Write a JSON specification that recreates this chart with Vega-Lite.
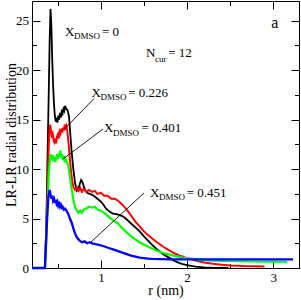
{
 "$schema": "https://vega.github.io/schema/vega-lite/v6.json",
 "width": 267, "height": 267,
 "autosize": {"type": "none"},
 "padding": {"left": 32, "top": 1, "right": 2, "bottom": 32},
 "background": "#ffffff",
 "config": {
  "view": {"stroke": "#000", "strokeWidth": 1},
  "font": "Liberation Serif",
  "axis": {"domain": false, "grid": false, "tickColor": "#000", "tickWidth": 1, "labelColor": "#000", "titleColor": "#000",
   "labelFont": "Liberation Serif", "titleFont": "Liberation Serif", "titleFontWeight": "normal",
   "labelFontSize": 13, "titleFontSize": 14, "labelFlush": false, "labelOverlap": false, "labelBound": false}
 },
 "datasets": {
  "curves": [
   {"r":0.2,"g":0,"s":"0"},{"r":0.35,"g":0,"s":"0"},{"r":0.365,"g":4,"s":"0"},{"r":0.38,"g":11,"s":"0"},{"r":0.395,"g":18,"s":"0"},{"r":0.405,"g":23,"s":"0"},{"r":0.415,"g":26.2,"s":"0"},{"r":0.425,"g":24.5,"s":"0"},{"r":0.435,"g":21,"s":"0"},{"r":0.445,"g":18.5,"s":"0"},{"r":0.455,"g":16.6,"s":"0"},{"r":0.465,"g":15.4,"s":"0"},{"r":0.475,"g":14.8,"s":"0"},{"r":0.485,"g":15.2,"s":"0"},{"r":0.495,"g":14.7,"s":"0"},{"r":0.505,"g":15.4,"s":"0"},{"r":0.515,"g":15.0,"s":"0"},{"r":0.525,"g":15.7,"s":"0"},{"r":0.535,"g":15.2,"s":"0"},{"r":0.545,"g":15.8,"s":"0"},{"r":0.555,"g":15.6,"s":"0"},{"r":0.565,"g":16.1,"s":"0"},{"r":0.575,"g":15.9,"s":"0"},{"r":0.585,"g":16.4,"s":"0"},{"r":0.595,"g":16.1,"s":"0"},{"r":0.61,"g":16.0,"s":"0"},{"r":0.62,"g":15.7,"s":"0"},{"r":0.63,"g":15.3,"s":"0"},{"r":0.645,"g":13.5,"s":"0"},{"r":0.66,"g":11.8,"s":"0"},{"r":0.68,"g":10.0,"s":"0"},{"r":0.7,"g":8.6,"s":"0"},{"r":0.72,"g":7.8,"s":"0"},{"r":0.74,"g":8.0,"s":"0"},{"r":0.755,"g":8.5,"s":"0"},{"r":0.77,"g":8.9,"s":"0"},{"r":0.785,"g":8.7,"s":"0"},{"r":0.8,"g":8.3,"s":"0"},{"r":0.82,"g":7.8,"s":"0"},{"r":0.84,"g":7.6,"s":"0"},{"r":0.87,"g":7.5,"s":"0"},{"r":0.9,"g":7.4,"s":"0"},{"r":0.93,"g":7.2,"s":"0"},{"r":0.96,"g":7.0,"s":"0"},{"r":1.0,"g":6.7,"s":"0"},{"r":1.03,"g":6.4,"s":"0"},{"r":1.06,"g":6.0,"s":"0"},{"r":1.1,"g":5.7,"s":"0"},{"r":1.14,"g":5.5,"s":"0"},{"r":1.18,"g":5.45,"s":"0"},{"r":1.22,"g":5.35,"s":"0"},{"r":1.26,"g":5.2,"s":"0"},{"r":1.3,"g":4.9,"s":"0"},{"r":1.35,"g":4.5,"s":"0"},{"r":1.4,"g":4.1,"s":"0"},{"r":1.45,"g":3.7,"s":"0"},{"r":1.5,"g":3.2,"s":"0"},{"r":1.55,"g":2.75,"s":"0"},{"r":1.6,"g":2.3,"s":"0"},{"r":1.65,"g":1.9,"s":"0"},{"r":1.7,"g":1.55,"s":"0"},{"r":1.75,"g":1.25,"s":"0"},{"r":1.8,"g":1.0,"s":"0"},{"r":1.85,"g":0.75,"s":"0"},{"r":1.9,"g":0.55,"s":"0"},{"r":1.95,"g":0.4,"s":"0"},{"r":2.0,"g":0.28,"s":"0"},{"r":2.1,"g":0.14,"s":"0"},{"r":2.2,"g":0.07,"s":"0"},{"r":2.3,"g":0.03,"s":"0"},{"r":2.48,"g":0.0,"s":"0"},

   {"r":0.2,"g":0,"s":"0.226"},{"r":0.35,"g":0,"s":"0.226"},{"r":0.365,"g":3,"s":"0.226"},{"r":0.38,"g":8,"s":"0.226"},{"r":0.395,"g":12.5,"s":"0.226"},{"r":0.41,"g":14.5,"s":"0.226"},{"r":0.42,"g":14.0,"s":"0.226"},{"r":0.43,"g":13.4,"s":"0.226"},{"r":0.44,"g":13.6,"s":"0.226"},{"r":0.45,"g":12.9,"s":"0.226"},{"r":0.46,"g":12.7,"s":"0.226"},{"r":0.47,"g":13.1,"s":"0.226"},{"r":0.48,"g":12.6,"s":"0.226"},{"r":0.49,"g":13.3,"s":"0.226"},{"r":0.5,"g":13.5,"s":"0.226"},{"r":0.51,"g":13.1,"s":"0.226"},{"r":0.52,"g":13.8,"s":"0.226"},{"r":0.53,"g":13.6,"s":"0.226"},{"r":0.54,"g":14.1,"s":"0.226"},{"r":0.55,"g":13.7,"s":"0.226"},{"r":0.56,"g":14.2,"s":"0.226"},{"r":0.57,"g":13.9,"s":"0.226"},{"r":0.58,"g":14.5,"s":"0.226"},{"r":0.59,"g":14.2,"s":"0.226"},{"r":0.6,"g":14.4,"s":"0.226"},{"r":0.61,"g":13.8,"s":"0.226"},{"r":0.62,"g":13.0,"s":"0.226"},{"r":0.635,"g":11.5,"s":"0.226"},{"r":0.65,"g":10.0,"s":"0.226"},{"r":0.665,"g":8.9,"s":"0.226"},{"r":0.68,"g":8.2,"s":"0.226"},{"r":0.7,"g":7.9,"s":"0.226"},{"r":0.72,"g":8.2,"s":"0.226"},{"r":0.74,"g":7.8,"s":"0.226"},{"r":0.76,"g":8.1,"s":"0.226"},{"r":0.78,"g":7.7,"s":"0.226"},{"r":0.8,"g":8.0,"s":"0.226"},{"r":0.83,"g":7.7,"s":"0.226"},{"r":0.86,"g":7.9,"s":"0.226"},{"r":0.9,"g":7.7,"s":"0.226"},{"r":0.93,"g":7.8,"s":"0.226"},{"r":0.96,"g":7.5,"s":"0.226"},{"r":1.0,"g":7.6,"s":"0.226"},{"r":1.04,"g":7.3,"s":"0.226"},{"r":1.08,"g":7.3,"s":"0.226"},{"r":1.12,"g":7.0,"s":"0.226"},{"r":1.16,"g":7.0,"s":"0.226"},{"r":1.2,"g":6.8,"s":"0.226"},{"r":1.25,"g":6.4,"s":"0.226"},{"r":1.3,"g":5.9,"s":"0.226"},{"r":1.35,"g":5.3,"s":"0.226"},{"r":1.4,"g":4.7,"s":"0.226"},{"r":1.45,"g":4.2,"s":"0.226"},{"r":1.5,"g":3.7,"s":"0.226"},{"r":1.55,"g":3.3,"s":"0.226"},{"r":1.6,"g":2.95,"s":"0.226"},{"r":1.65,"g":2.6,"s":"0.226"},{"r":1.7,"g":2.3,"s":"0.226"},{"r":1.75,"g":2.0,"s":"0.226"},{"r":1.8,"g":1.75,"s":"0.226"},{"r":1.85,"g":1.5,"s":"0.226"},{"r":1.9,"g":1.3,"s":"0.226"},{"r":1.95,"g":1.15,"s":"0.226"},{"r":2.0,"g":1.0,"s":"0.226"},{"r":2.1,"g":0.75,"s":"0.226"},{"r":2.2,"g":0.55,"s":"0.226"},{"r":2.3,"g":0.42,"s":"0.226"},{"r":2.4,"g":0.33,"s":"0.226"},{"r":2.5,"g":0.26,"s":"0.226"},{"r":2.6,"g":0.22,"s":"0.226"},{"r":2.7,"g":0.19,"s":"0.226"},{"r":2.8,"g":0.17,"s":"0.226"},{"r":2.9,"g":0.16,"s":"0.226"},

   {"r":0.2,"g":0,"s":"0.401"},{"r":0.35,"g":0,"s":"0.401"},{"r":0.365,"g":2.5,"s":"0.401"},{"r":0.38,"g":6,"s":"0.401"},{"r":0.395,"g":9.5,"s":"0.401"},{"r":0.41,"g":11.2,"s":"0.401"},{"r":0.42,"g":11.5,"s":"0.401"},{"r":0.43,"g":10.9,"s":"0.401"},{"r":0.44,"g":11.4,"s":"0.401"},{"r":0.45,"g":10.8,"s":"0.401"},{"r":0.46,"g":11.2,"s":"0.401"},{"r":0.47,"g":10.7,"s":"0.401"},{"r":0.48,"g":11.1,"s":"0.401"},{"r":0.49,"g":11.5,"s":"0.401"},{"r":0.5,"g":11.0,"s":"0.401"},{"r":0.51,"g":11.6,"s":"0.401"},{"r":0.52,"g":11.3,"s":"0.401"},{"r":0.53,"g":11.9,"s":"0.401"},{"r":0.54,"g":11.1,"s":"0.401"},{"r":0.55,"g":11.5,"s":"0.401"},{"r":0.56,"g":10.9,"s":"0.401"},{"r":0.57,"g":11.3,"s":"0.401"},{"r":0.58,"g":10.7,"s":"0.401"},{"r":0.59,"g":11.0,"s":"0.401"},{"r":0.6,"g":10.8,"s":"0.401"},{"r":0.62,"g":10.4,"s":"0.401"},{"r":0.64,"g":9.3,"s":"0.401"},{"r":0.66,"g":8.0,"s":"0.401"},{"r":0.68,"g":6.9,"s":"0.401"},{"r":0.7,"g":6.2,"s":"0.401"},{"r":0.72,"g":5.8,"s":"0.401"},{"r":0.74,"g":5.6,"s":"0.401"},{"r":0.76,"g":5.8,"s":"0.401"},{"r":0.78,"g":5.6,"s":"0.401"},{"r":0.8,"g":5.9,"s":"0.401"},{"r":0.83,"g":6.0,"s":"0.401"},{"r":0.86,"g":6.2,"s":"0.401"},{"r":0.9,"g":6.1,"s":"0.401"},{"r":0.93,"g":6.2,"s":"0.401"},{"r":0.96,"g":5.9,"s":"0.401"},{"r":1.0,"g":5.8,"s":"0.401"},{"r":1.05,"g":5.5,"s":"0.401"},{"r":1.1,"g":5.1,"s":"0.401"},{"r":1.15,"g":4.8,"s":"0.401"},{"r":1.2,"g":4.5,"s":"0.401"},{"r":1.25,"g":4.0,"s":"0.401"},{"r":1.3,"g":3.6,"s":"0.401"},{"r":1.35,"g":3.2,"s":"0.401"},{"r":1.4,"g":2.9,"s":"0.401"},{"r":1.45,"g":2.6,"s":"0.401"},{"r":1.5,"g":2.35,"s":"0.401"},{"r":1.55,"g":2.15,"s":"0.401"},{"r":1.6,"g":1.95,"s":"0.401"},{"r":1.65,"g":1.75,"s":"0.401"},{"r":1.7,"g":1.6,"s":"0.401"},{"r":1.75,"g":1.45,"s":"0.401"},{"r":1.8,"g":1.35,"s":"0.401"},{"r":1.85,"g":1.25,"s":"0.401"},{"r":1.9,"g":1.15,"s":"0.401"},{"r":1.95,"g":1.05,"s":"0.401"},{"r":2.0,"g":1.0,"s":"0.401"},{"r":2.1,"g":0.88,"s":"0.401"},{"r":2.2,"g":0.8,"s":"0.401"},{"r":2.3,"g":0.75,"s":"0.401"},{"r":2.4,"g":0.72,"s":"0.401"},{"r":2.6,"g":0.68,"s":"0.401"},{"r":2.8,"g":0.66,"s":"0.401"},{"r":3.0,"g":0.64,"s":"0.401"},{"r":3.16,"g":0.63,"s":"0.401"},

   {"r":0.2,"g":0,"s":"0.451"},{"r":0.35,"g":0,"s":"0.451"},{"r":0.36,"g":2,"s":"0.451"},{"r":0.375,"g":5,"s":"0.451"},{"r":0.39,"g":7.2,"s":"0.451"},{"r":0.405,"g":7.9,"s":"0.451"},{"r":0.415,"g":7.4,"s":"0.451"},{"r":0.425,"g":7.0,"s":"0.451"},{"r":0.435,"g":7.3,"s":"0.451"},{"r":0.445,"g":6.8,"s":"0.451"},{"r":0.455,"g":7.0,"s":"0.451"},{"r":0.465,"g":6.6,"s":"0.451"},{"r":0.475,"g":6.9,"s":"0.451"},{"r":0.485,"g":6.5,"s":"0.451"},{"r":0.495,"g":6.7,"s":"0.451"},{"r":0.505,"g":6.3,"s":"0.451"},{"r":0.515,"g":6.5,"s":"0.451"},{"r":0.525,"g":6.2,"s":"0.451"},{"r":0.535,"g":6.4,"s":"0.451"},{"r":0.545,"g":6.1,"s":"0.451"},{"r":0.555,"g":6.2,"s":"0.451"},{"r":0.57,"g":5.9,"s":"0.451"},{"r":0.585,"g":6.0,"s":"0.451"},{"r":0.6,"g":5.8,"s":"0.451"},{"r":0.62,"g":5.5,"s":"0.451"},{"r":0.64,"g":5.0,"s":"0.451"},{"r":0.66,"g":4.6,"s":"0.451"},{"r":0.68,"g":4.0,"s":"0.451"},{"r":0.7,"g":3.5,"s":"0.451"},{"r":0.72,"g":3.1,"s":"0.451"},{"r":0.75,"g":2.8,"s":"0.451"},{"r":0.78,"g":2.6,"s":"0.451"},{"r":0.81,"g":2.7,"s":"0.451"},{"r":0.84,"g":2.5,"s":"0.451"},{"r":0.87,"g":2.6,"s":"0.451"},{"r":0.9,"g":2.5,"s":"0.451"},{"r":0.95,"g":2.4,"s":"0.451"},{"r":1.0,"g":2.3,"s":"0.451"},{"r":1.05,"g":2.15,"s":"0.451"},{"r":1.1,"g":2.0,"s":"0.451"},{"r":1.15,"g":1.85,"s":"0.451"},{"r":1.2,"g":1.7,"s":"0.451"},{"r":1.25,"g":1.55,"s":"0.451"},{"r":1.3,"g":1.4,"s":"0.451"},{"r":1.35,"g":1.25,"s":"0.451"},{"r":1.4,"g":1.15,"s":"0.451"},{"r":1.45,"g":1.05,"s":"0.451"},{"r":1.5,"g":1.0,"s":"0.451"},{"r":1.55,"g":0.95,"s":"0.451"},{"r":1.6,"g":0.92,"s":"0.451"},{"r":1.7,"g":0.9,"s":"0.451"},{"r":1.8,"g":0.88,"s":"0.451"},{"r":2.0,"g":0.87,"s":"0.451"},{"r":2.2,"g":0.88,"s":"0.451"},{"r":2.5,"g":0.87,"s":"0.451"},{"r":2.8,"g":0.88,"s":"0.451"},{"r":3.0,"g":0.87,"s":"0.451"},{"r":3.23,"g":0.88,"s":"0.451"}
  ],
  "mainText": [
   {"r":0.583,"g":23.49,"t":"X"},{"r":1.013,"g":23.49,"t":"= 0"},
   {"r":1.524,"g":21.33,"t":"N"},{"r":1.782,"g":21.33,"t":"= 12"},
   {"r":0.891,"g":17.34,"t":"X"},{"r":1.318,"g":17.34,"t":"= 0.226"},
   {"r":1.036,"g":13.75,"t":"X"},{"r":1.471,"g":13.75,"t":"= 0.401"},
   {"r":1.57,"g":7.23,"t":"X"},{"r":1.996,"g":7.23,"t":"= 0.451"}
  ],
  "subText": [
   {"r":0.688,"g":23.12,"t":"DMSO"},
   {"r":1.628,"g":20.88,"t":"cur"},
   {"r":0.995,"g":16.99,"t":"DMSO"},
   {"r":1.14,"g":13.35,"t":"DMSO"},
   {"r":1.675,"g":6.83,"t":"DMSO"}
  ],
  "panel": [{"r":3.018,"g":24.27,"t":"a"}],
  "pointers": [
   {"r":0.92,"g":17.14,"r2":0.572,"g2":14.0},
   {"r":1.024,"g":14.05,"r2":0.56,"g2":11.02},
   {"r":1.5,"g":7.58,"r2":0.885,"g2":2.63}
  ]
 },
 "resolve": {"axis": {"x": "independent", "y": "independent"}},
 "layer": [
  {
   "data": {"name": "curves"},
   "mark": {"type": "line", "interpolate": "linear"},
   "encoding": {
    "x": {"field": "r", "type": "quantitative", "scale": {"domain": [0.2, 3.3], "nice": false, "zero": false},
     "axis": {"orient": "bottom", "values": [1, 2, 3], "tickSize": -8, "labelPadding": 11, "title": "r (nm)", "titleX": 133.5, "titleY": 26, "titleBaseline": "alphabetic"}},
    "y": {"field": "g", "type": "quantitative", "scale": {"domain": [0, 27], "nice": false, "zero": false},
     "axis": {"orient": "left", "values": [0, 5, 10, 15, 20, 25], "tickSize": -8, "labelPadding": 11.5, "title": "LR-LR radial distribution", "titleX": -16.5, "titleY": 133.5, "titleAngle": 270, "titleBaseline": "alphabetic"}},
    "color": {"field": "s", "type": "nominal", "scale": {"domain": ["0", "0.226", "0.401", "0.451"], "range": ["#000000", "#ff0000", "#00ff00", "#0000ff"]}, "legend": null},
    "size": {"field": "s", "type": "nominal", "scale": {"domain": ["0", "0.226", "0.401", "0.451"], "range": [1.8, 2.3, 2.3, 2.3]}, "legend": null}
   }
  },
  {
   "data": {"name": "mainText"},
   "mark": {"type": "text", "align": "left", "baseline": "alphabetic", "fontSize": 13, "font": "Liberation Serif", "color": "#000"},
   "encoding": {
    "x": {"field": "r", "type": "quantitative", "scale": {"domain": [0.2, 3.3], "nice": false, "zero": false},
     "axis": {"orient": "top", "values": [1, 2, 3], "tickSize": -8, "labels": false, "title": null}},
    "y": {"field": "g", "type": "quantitative", "scale": {"domain": [0, 27], "nice": false, "zero": false},
     "axis": {"orient": "right", "values": [0, 5, 10, 15, 20, 25], "tickSize": -8, "labels": false, "title": null}},
    "text": {"field": "t"}
   }
  },
  {
   "data": {"name": "subText"},
   "mark": {"type": "text", "align": "left", "baseline": "alphabetic", "fontSize": 9, "font": "Liberation Serif", "color": "#000"},
   "encoding": {
    "x": {"field": "r", "type": "quantitative", "scale": {"domain": [0.2, 3.3], "nice": false, "zero": false},
     "axis": {"orient": "bottom", "values": [0.5, 1.5, 2.5], "tickSize": -4.5, "labels": false, "title": null}},
    "y": {"field": "g", "type": "quantitative", "scale": {"domain": [0, 27], "nice": false, "zero": false},
     "axis": {"orient": "left", "values": [2.5, 7.5, 12.5, 17.5, 22.5], "tickSize": -4.5, "labels": false, "title": null}},
    "text": {"field": "t"}
   }
  },
  {
   "data": {"name": "pointers"},
   "mark": {"type": "rule", "color": "#000", "strokeWidth": 0.9},
   "encoding": {
    "x": {"field": "r", "type": "quantitative", "scale": {"domain": [0.2, 3.3], "nice": false, "zero": false},
     "axis": {"orient": "top", "values": [0.5, 1.5, 2.5], "tickSize": -4.5, "labels": false, "title": null}},
    "y": {"field": "g", "type": "quantitative", "scale": {"domain": [0, 27], "nice": false, "zero": false},
     "axis": {"orient": "right", "values": [2.5, 7.5, 12.5, 17.5, 22.5], "tickSize": -4.5, "labels": false, "title": null}},
    "x2": {"field": "r2"},
    "y2": {"field": "g2"}
   }
  },
  {
   "data": {"name": "panel"},
   "mark": {"type": "text", "align": "center", "baseline": "alphabetic", "fontSize": 16, "font": "Liberation Serif", "color": "#000"},
   "encoding": {
    "x": {"field": "r", "type": "quantitative", "scale": {"domain": [0.2, 3.3], "nice": false, "zero": false}, "axis": null},
    "y": {"field": "g", "type": "quantitative", "scale": {"domain": [0, 27], "nice": false, "zero": false}, "axis": null},
    "text": {"field": "t"}
   }
  }
 ]
}
